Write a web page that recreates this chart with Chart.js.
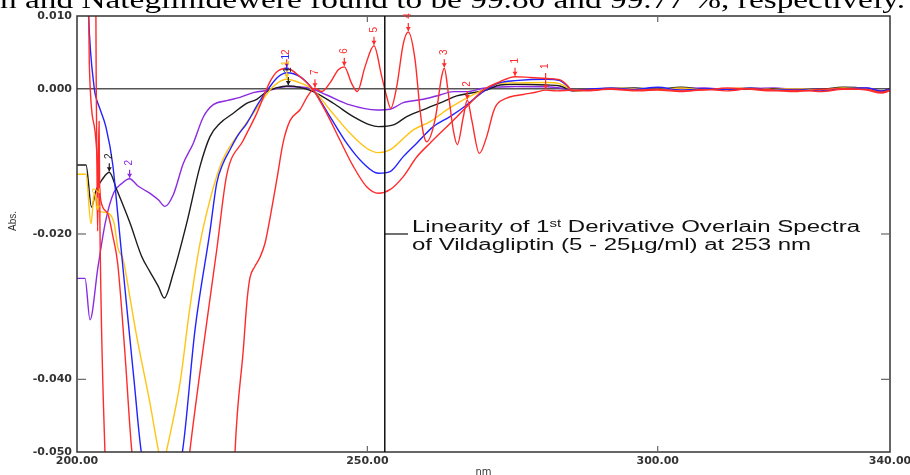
<!DOCTYPE html>
<html><head><meta charset="utf-8">
<script src="https://cdn.jsdelivr.net/npm/chart.js@4.4.0/dist/chart.umd.min.js"></script>
<style>
html,body{margin:0;padding:0;background:#fff;overflow:hidden}
#wrap{position:relative;width:910px;height:475px;overflow:hidden;background:#fff}
canvas{position:absolute;left:0;top:0}
.txt{position:absolute;white-space:nowrap;transform-origin:0 0;color:#000}
#top{left:0px;top:-13px;font-family:"Liberation Serif","Times New Roman",serif;font-size:26px;line-height:26px}
#ann{left:412px;top:218px;font-family:"Liberation Sans",Arial,sans-serif;font-size:16px;line-height:18px;color:#111}
#ann sup{font-size:10px;vertical-align:5px;line-height:0}
#abs{left:13px;top:221px;font-family:"Liberation Sans",Arial,sans-serif;font-size:10px;line-height:12px;color:#333;transform-origin:50% 50%;transform:translate(-50%,-50%) rotate(-90deg)}
</style></head>
<body><div id="wrap"><canvas id="c" width="910" height="475"></canvas>
<div id="top" class="txt">n and Nateglinidewere found to be 99.80 and 99.77 %, respectively.</div>
<div id="ann" class="txt"><div>Linearity of 1<sup>st</sup> Derivative Overlain Spectra</div><div>of Vildagliptin (5 - 25µg/ml) at 253 nm</div></div>
<div id="abs" class="txt">Abs.</div>
</div>
<script>
// ---- data (wavelength nm / absorbance derivative) ----
const xTicks = [200, 250, 300, 340];
const yTicks = [0.010, 0.000, -0.020, -0.040, -0.050];
const markerNm = 253;

const tailWl = [288, 292, 296, 300, 304, 308, 312, 316, 320, 324, 328, 332, 336, 338.5, 340];

const wlRedOsc = [203.15, 203.3, 203.45, 203.55, 203.7, 203.8, 203.95, 204.8, 206.0, 215.0, 226.0, 227.21, 228.64, 229.3, 229.79, 230.6, 231.51, 232.4, 233.24, 234.39, 235.53, 236.68, 238.4, 239.83, 240.98, 242.14, 243.57, 245.0, 246.03, 247.3, 248.27, 249.59, 251.14, 252.47, 253.33, 254.02, 255.06, 256.19, 257.05, 258.21, 259.07, 259.63, 260.22, 261.65, 262.8, 263.25, 263.94, 264.8, 265.49, 266.52, 267.21, 267.97, 269.28, 270.55, 271.69, 272.27, 274.0, 276.86, 279.0, 280.7, 282.6, 285.47];
const absRedOsc = [0.03, 0.002, -0.012, -0.0196, -0.009, -0.0045, -0.019, -0.0497, -0.07, -0.12, -0.08, -0.05, -0.0359, -0.029, -0.026, -0.0245, -0.0232, -0.0212, -0.0178, -0.0126, -0.0073, -0.0044, -0.0029, -0.0009, 0.00006, -0.0004, 0.0008, 0.0026, 0.0030, 0.0007, -0.0004, 0.0030, 0.0059, 0.0017, -0.0011, -0.0027, 0.0003, 0.0062, 0.0078, 0.0040, -0.0029, -0.0061, -0.0073, -0.0043, 0.0017, 0.0028, -0.0006, -0.0057, -0.0077, -0.0039, -0.00155, -0.0043, -0.0089, -0.0066, -0.0032, -0.0022, -0.0013, -0.0008, -0.0005, -0.0002, -0.0003, -0.0002];
const tailRedOsc = [-0.0003, 0.0000, -0.0002, -0.0001, -0.0003, -0.0002, 0.0001, -0.0001, -0.0003, -0.0002, -0.0004, -0.0001, -0.0001, -0.0005, -0.0002];

const wlRed = [201.5, 202.01, 202.12, 203.1, 204.13, 205.29, 206.2, 207.01, 208.21, 209.42, 212.0, 215.0, 217.5, 219.46, 221.7, 224.06, 225.78, 228.64, 230.95, 233.24, 234.39, 236.11, 238.4, 240.69, 243.0, 245.29, 247.58, 249.88, 251.88, 253.9, 256.19, 258.5, 260.79, 263.08, 265.39, 267.68, 269.96, 272.84, 275.43, 278.0, 280.89, 283.17, 284.38, 285.24];
const absRed = [0.03, 0.0108, 0.0034, -0.0058, -0.0155, -0.0172, -0.0204, -0.0241, -0.0359, -0.0497, -0.064, -0.069, -0.064, -0.0497, -0.0359, -0.0222, -0.0119, -0.0071, -0.0034, 0.00096, 0.0023, 0.00281, 0.00165, -0.00018, -0.0034, -0.0071, -0.0107, -0.0135, -0.0144, -0.0139, -0.0121, -0.0094, -0.0075, -0.0057, -0.0039, -0.0020, -0.0002, 0.00096, 0.00165, 0.00154, 0.0014, 0.0012, 0.0005, -0.00025];
const tailRed = [-0.0002, -0.0001, -0.0003, -0.0002, -0.0004, -0.0001, -0.0003, 0.0000, -0.0002, -0.0004, -0.0001, 0.0000, -0.0002, -0.0006, -0.0003];

const wlBlue = [201.5, 201.95, 202.98, 203.27, 203.96, 204.99, 206.15, 207.01, 208.56, 209.82, 211.02, 212.5, 214.5, 216.5, 218.2, 220.32, 222.9, 224.06, 225.14, 226.35, 227.73, 229.22, 231.17, 233.24, 234.6, 236.11, 238.4, 240.69, 243.57, 246.44, 249.29, 251.88, 253.9, 256.19, 258.5, 261.36, 264.23, 267.11, 269.96, 272.84, 275.43, 280.89, 283.17, 284.38, 285.24];
const absBlue = [0.025, 0.0108, 0.0, -0.0012, -0.0028, -0.0053, -0.0104, -0.0172, -0.0300, -0.0401, -0.0497, -0.055, -0.0575, -0.055, -0.0497, -0.0332, -0.0196, -0.0130, -0.0103, -0.0084, -0.0064, -0.0048, -0.0021, 0.0003, 0.0016, 0.0022, 0.00165, -0.00018, -0.00385, -0.0075, -0.01026, -0.01164, -0.01142, -0.00935, -0.0075, -0.00523, -0.00385, -0.00224, -0.00041, 0.00083, 0.0011, 0.0013, 0.0011, 0.0004, -0.00025];
const tailBlue = [-0.0001, 0.0001, -0.0001, 0.0002, -0.0002, 0.0000, -0.0001, 0.0001, -0.0002, -0.0001, -0.0003, 0.0000, 0.0001, -0.0004, -0.0001];

const wlYellow = [200, 201.55, 202.41, 202.98, 203.56, 204.7, 205.56, 206.42, 207.01, 207.97, 209.13, 210.28, 212.57, 214.0, 214.72, 215.45, 217.74, 219.46, 221.18, 222.9, 224.63, 226.0, 227.5, 230.36, 233.24, 234.39, 236.11, 238.4, 240.69, 243.57, 247.01, 249.88, 251.88, 253.9, 255.62, 257.91, 260.79, 263.66, 266.52, 269.96, 272.84, 275.43, 280.89, 283.17, 284.55, 285.41];
const absYellow = [-0.01177, -0.01177, -0.0186, -0.0143, -0.0168, -0.0170, -0.0172, -0.0186, -0.0218, -0.0236, -0.0288, -0.0341, -0.0433, -0.0497, -0.0522, -0.0497, -0.0405, -0.0300, -0.0213, -0.0153, -0.0107, -0.0084, -0.0066, -0.0034, -0.00018, 0.0007, 0.00129, 0.0008, -0.00018, -0.00293, -0.00613, -0.0082, -0.0088, -0.00843, -0.00729, -0.00568, -0.00454, -0.00293, -0.00155, -0.00018, 0.00074, 0.0008, 0.00085, 0.00065, 0.0001, -0.0003];
const tailYellow = [-0.0002, 0.0001, 0.0000, -0.0001, 0.0001, -0.0001, 0.0000, 0.0001, -0.0001, 0.0000, -0.0002, 0.0001, 0.0000, -0.0005, -0.0001];

const wlBlack = [200, 201.55, 202.5, 203.27, 204.43, 205.56, 206.84, 209.13, 211.14, 212.57, 214.0, 215.03, 216.58, 218.89, 221.18, 222.9, 224.63, 226.92, 229.22, 230.95, 232.67, 234.27, 236.39, 238.4, 240.69, 244.14, 247.58, 250.45, 251.88, 254.47, 256.78, 260.22, 263.08, 265.39, 267.68, 270.55, 272.84, 275.43, 280.89, 283.17, 284.55, 285.41];
const absBlack = [-0.0105, -0.0105, -0.0163, -0.0140, -0.0124, -0.0115, -0.0139, -0.0185, -0.0231, -0.0252, -0.0272, -0.0288, -0.0254, -0.0185, -0.0107, -0.0066, -0.00476, -0.00338, -0.00201, -0.00146, -0.00041, 0.0001, 0.00037, 0.00017, -0.00041, -0.00201, -0.00385, -0.00499, -0.00523, -0.00499, -0.00385, -0.0027, -0.00179, -0.001, -0.00063, -0.00018, 0.00051, 0.0006, 0.0005, 0.00037, -0.00004, -0.0003];
const tailBlack = [-0.0002, 0.0000, 0.0001, -0.0001, 0.0002, -0.0001, 0.0000, -0.0001, 0.0000, -0.0002, -0.0001, 0.0002, 0.0000, -0.0004, 0.0000];

const wlPurple = [200, 201.38, 202.24, 203.62, 204.91, 206.34, 207.63, 209.06, 210.5, 211.95, 212.57, 214.0, 215.15, 216.58, 218.3, 220.03, 221.75, 223.47, 225.78, 228.07, 230.36, 233.24, 236.11, 240.12, 243.0, 247.01, 251.61, 253.9, 256.19, 259.63, 262.51, 264.8, 267.11, 269.96, 272.84, 275.43, 280.89, 283.17, 285.41];
const absPurple = [-0.0261, -0.0261, -0.0318, -0.0245, -0.0183, -0.0143, -0.0131, -0.0124, -0.0134, -0.0141, -0.0144, -0.0153, -0.0162, -0.0146, -0.0103, -0.0075, -0.0039, -0.0022, -0.00165, -0.0012, -0.00055, -0.00018, 0.0003, 0.00006, -0.00087, -0.00224, -0.00293, -0.00283, -0.00193, -0.00146, -0.00087, -0.00041, -0.00041, 0.00006, 0.00023, 0.0003, 0.00026, 0.0001, -0.0003];
const tailPurple = [-0.0001, -0.0001, 0.0000, -0.0001, 0.0000, 0.0001, -0.0001, 0.0000, 0.0001, -0.0001, -0.0001, 0.0000, 0.0001, -0.0003, 0.0000];

// peak labels: series, wavelength, text
const peakLabels = [
  {s:'redOsc', nm:240.98, t:'7'}, {s:'redOsc', nm:246.03, t:'6'}, {s:'redOsc', nm:251.14, t:'5'},
  {s:'redOsc', nm:257.05, t:'4'}, {s:'redOsc', nm:263.25, t:'3'}, {s:'redOsc', nm:267.21, t:'2'},
  {s:'redOsc', nm:280.7, t:'1', len:16},
  {s:'red', nm:236.11, t:'2'}, {s:'red', nm:275.43, t:'1'},
  {s:'blue', nm:236.11, t:'1'}, {s:'yellow', nm:236.11, t:'1'}, {s:'black', nm:236.39, t:'1'},
  {s:'black', nm:205.56, t:'2'}, {s:'purple', nm:209.06, t:'2'}, {s:'yellow', nm:203.56, t:'2', len:12}
];

// ---- build ----
function mk(wl, ab, tail){
  const w = wl.concat(tailWl), a = ab.concat(tail);
  const n = Math.min(w.length, a.length);
  return {wl: w.slice(0,n), ab: a.slice(0,n)};
}
const series = {
  redOsc: Object.assign(mk(wlRedOsc, absRedOsc, tailRedOsc), {color:'#ff2b2b'}),
  red:    Object.assign(mk(wlRed, absRed, tailRed), {color:'#ff2b2b'}),
  blue:   Object.assign(mk(wlBlue, absBlue, tailBlue), {color:'#2323ff'}),
  yellow: Object.assign(mk(wlYellow, absYellow, tailYellow), {color:'#ffc414'}),
  black:  Object.assign(mk(wlBlack, absBlack, tailBlack), {color:'#1c1c1c'}),
  purple: Object.assign(mk(wlPurple, absPurple, tailPurple), {color:'#8a2be2'})
};
const order = ['redOsc','red','blue','yellow','black','purple'];
const datasets = order.map(k => ({
  label: k,
  data: series[k].wl.map((w,i)=>({x:w, y:series[k].ab[i]})),
  borderColor: series[k].color,
  borderWidth: 1.4,
  pointRadius: 0,
  fill: false,
  cubicInterpolationMode: 'monotone'
}));

const framePlugin = {
  id: 'frame',
  beforeDatasetsDraw(chart){
    const {ctx, chartArea:a, scales:{y}} = chart;
    ctx.save();
    ctx.strokeStyle = '#555'; ctx.lineWidth = 1.5;
    const y0 = y.getPixelForValue(0);
    ctx.beginPath(); ctx.moveTo(a.left, y0); ctx.lineTo(a.right, y0); ctx.stroke();
    ctx.restore();
  },
  afterDatasetsDraw(chart){
    const {ctx, chartArea:a, scales:{x,y}} = chart;
    ctx.save();
    ctx.strokeStyle = '#333'; ctx.lineWidth = 1.5;
    ctx.strokeRect(a.left, a.top, a.right-a.left, a.bottom-a.top);
    ctx.strokeStyle = '#666'; ctx.lineWidth = 1.2;
    [250, 300].forEach(v=>{
      const px = x.getPixelForValue(v);
      ctx.beginPath(); ctx.moveTo(px, a.bottom); ctx.lineTo(px, a.bottom-6); ctx.stroke();
      ctx.beginPath(); ctx.moveTo(px, a.top); ctx.lineTo(px, a.top+6); ctx.stroke();
    });
    [-0.02, -0.04].forEach(v=>{
      const py = y.getPixelForValue(v);
      ctx.beginPath(); ctx.moveTo(a.left, py); ctx.lineTo(a.left+9, py); ctx.stroke();
      ctx.beginPath(); ctx.moveTo(a.right, py); ctx.lineTo(a.right-9, py); ctx.stroke();
    });
    const mx = x.getPixelForValue(markerNm);
    ctx.strokeStyle = '#111'; ctx.lineWidth = 1.5;
    ctx.beginPath(); ctx.moveTo(mx, a.top); ctx.lineTo(mx, a.bottom); ctx.stroke();
    const my = y.getPixelForValue(-0.02);
    ctx.lineWidth = 1.2;
    ctx.beginPath(); ctx.moveTo(mx, my); ctx.lineTo(x.getPixelForValue(257.0), my); ctx.stroke();
    ctx.restore();
  }
};

const peakPlugin = {
  id: 'peaks',
  afterDatasetsDraw(chart){
    const {ctx, scales:{x,y}} = chart;
    ctx.save();
    peakLabels.forEach(p=>{
      const s = series[p.s];
      let bi = 0, bd = Infinity;
      s.wl.forEach((w,i)=>{ const d = Math.abs(w-p.nm); if (d < bd){ bd = d; bi = i; } });
      const px = x.getPixelForValue(s.wl[bi]), py = y.getPixelForValue(s.ab[bi]);
      const len = p.len || 8;
      ctx.strokeStyle = s.color; ctx.fillStyle = s.color; ctx.lineWidth = 1.2;
      ctx.beginPath(); ctx.moveTo(px, py-1-len); ctx.lineTo(px, py-1); ctx.stroke();
      ctx.beginPath(); ctx.moveTo(px, py-1); ctx.lineTo(px-2.5, py-5); ctx.lineTo(px+2.5, py-5); ctx.closePath(); ctx.fill();
      ctx.save();
      ctx.translate(px, py-1-len-7);
      ctx.rotate(-Math.PI/2);
      ctx.font = '10px "Liberation Sans", Arial, sans-serif';
      ctx.textAlign = 'center'; ctx.textBaseline = 'middle';
      ctx.fillText(p.t, 0, 0);
      ctx.restore();
    });
    ctx.restore();
  }
};

const tickFont = {family:'"DejaVu Sans", sans-serif', size:11, weight:'bold'};
new Chart(document.getElementById('c'), {
  type: 'line',
  data: {datasets},
  options: {
    responsive: false, animation: false, devicePixelRatio: 1,
    layout: {padding: {left:0, top:16, right:20, bottom:0}},
    plugins: {legend:{display:false}, tooltip:{enabled:false}},
    scales: {
      x: {
        type:'linear', min:200, max:340,
        afterBuildTicks: s => { s.ticks = xTicks.map(v=>({value:v})); },
        afterFit: s => { s.height = 23; s.paddingLeft = 0; s.paddingRight = 0; },
        ticks: {callback: v => Number(v).toFixed(2), font: tickFont, color:'#333', padding:3, maxRotation:0, autoSkip:false},
        grid: {display:false, drawTicks:false}, border: {display:false},
        title: {display:true, text:'nm', font:{family:'"DejaVu Sans", sans-serif', size:10}, color:'#333', padding:{top:0, bottom:-3}}
      },
      y: {
        type:'linear', min:-0.05, max:0.01,
        afterBuildTicks: s => { s.ticks = yTicks.map(v=>({value:v})); },
        afterFit: s => { s.width = 77; s.paddingTop = 0; s.paddingBottom = 0; },
        ticks: {callback: v => (Math.abs(v) < 1e-9 ? 0 : Number(v)).toFixed(3), font: tickFont, color:'#333', padding:5, autoSkip:false},
        grid: {display:false, drawTicks:false}, border: {display:false}
      }
    }
  },
  plugins: [framePlugin, peakPlugin]
});

function stretch(id, target){
  const el = document.getElementById(id);
  const w = el.getBoundingClientRect().width;
  if (w > 0) el.style.transform = 'scaleX(' + (target / w) + ')';
}
stretch('top', 905);
stretch('ann', 448);
</script>
</body></html>
